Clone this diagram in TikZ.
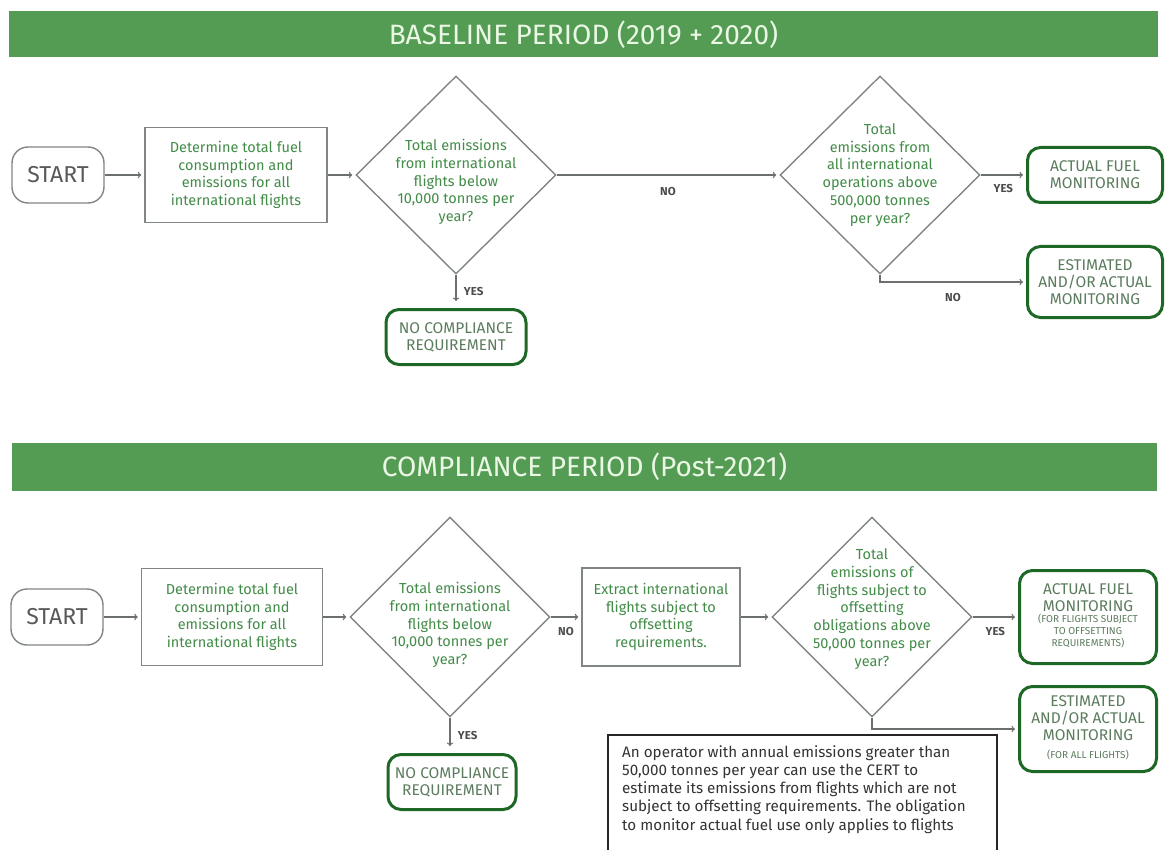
\documentclass[tikz,border=0pt]{standalone}
\usepackage{fontspec}
\setmainfont{Fira Sans}
\usetikzlibrary{arrows,shapes.geometric}

\definecolor{bargreen}{RGB}{84,156,84}
\definecolor{bartext}{RGB}{234,247,228}
\definecolor{txtgreen}{RGB}{66,140,72}
\definecolor{termtext}{RGB}{92,124,94}
\definecolor{edgegray}{RGB}{128,134,128}
\definecolor{termgreen}{RGB}{30,104,38}
\definecolor{linegray}{RGB}{108,112,108}

\newcommand{\finetext}[1]{{\fontsize{10}{12}\selectfont\begin{tabular}{@{}c@{}}#1\end{tabular}}}

\begin{document}
\begin{tikzpicture}[x=1pt,y=-1pt,>=to,
    banner/.style={fill=bargreen,minimum width=1149pt,minimum height=46pt,text=bartext,font=\fontsize{28}{30}\selectfont},
    startbox/.style={draw=edgegray,line width=1.4pt,rounded corners=16pt,minimum width=92pt,minimum height=56pt,text=black!65,font=\fontsize{23}{26}\selectfont},
    process/.style={draw=edgegray,line width=1.4pt,align=center,text=txtgreen,inner sep=0pt,font=\fontsize{14.5}{17.5}\selectfont},
    decision/.style={diamond,draw=edgegray,line width=1.4pt,inner sep=0pt,minimum width=200pt,minimum height=198pt},
    dtext/.style={align=center,text=txtgreen,font=\fontsize{14.5}{17.8}\selectfont},
    terminal/.style={draw=termgreen,line width=3pt,rounded corners=13pt,align=center,inner sep=0pt,text=termtext,font=\fontsize{15.5}{16.8}\selectfont},
    flow/.style={->,draw=linegray,line width=1.3pt,shorten >=3pt},
    answer/.style={text=black!70,font=\fontsize{11.5}{12}\selectfont\bfseries},
    notebox/.style={draw=black!85,line width=2.6pt},
    notetext/.style={align=left,text=black!80,inner sep=0pt,font=\fontsize{15.2}{18.3}\selectfont}]
    \useasboundingbox (0,0) rectangle (1166,850);
    \clip (0,0) rectangle (1166,850);
    \fill[white] (0,0) rectangle (1166,850);

    % period banners
    \node[banner] (bar1) at (583.5,34.5) {BASELINE PERIOD (2019 + 2020)};
    \node[banner,minimum width=1145pt,minimum height=48pt] (bar2) at (584.5,467) {COMPLIANCE PERIOD (Post-2021)};

    % baseline period
    \node[startbox] (start1) at (58,175) {START};
    \node[process,minimum width=182pt,minimum height=95pt] (det1) at (236,175)
        {Determine total fuel\\consumption and\\emissions for all\\international flights};
    \node[decision] (dec1) at (456,175) {};
    \node[dtext,yshift=-7pt] (dec1t) at (dec1) {Total emissions\\from international\\flights below\\10,000 tonnes per\\year?};
    \node[terminal,minimum width=140pt,minimum height=55pt] (nocomp1) at (456,337) {NO COMPLIANCE\\REQUIREMENT};
    \node[decision] (dec2) at (880,175) {};
    \node[dtext] (dec2t) at (dec2) {Total\\emissions from\\all international\\operations above\\500,000 tonnes\\per year?};
    \node[terminal,minimum width=135pt,minimum height=55pt] (actual1) at (1095,175) {ACTUAL FUEL\\MONITORING};
    \node[terminal,minimum width=135pt,minimum height=71pt] (est1) at (1095,282) {ESTIMATED\\AND/OR ACTUAL\\MONITORING};

    \draw[flow] (start1) -- (det1);
    \draw[flow] (det1) -- (dec1);
    \draw[flow,shorten >=7pt] (dec1) -- (nocomp1) node[answer,midway,right=4pt] {YES};
    \draw[flow] (dec1) -- (dec2) node[answer,midway,below=8pt] {NO};
    \draw[flow] (dec2) -- (actual1) node[answer,midway,below=5pt] {YES};
    \draw[flow] (dec2.south) |- (est1) node[answer,pos=0.75,below=7pt] {NO};

    % compliance period
    \node[startbox] (start2) at (57,617) {START};
    \node[process,minimum width=181pt,minimum height=97pt] (det2) at (232,617)
        {Determine total fuel\\consumption and\\emissions for all\\international flights};
    \node[decision,minimum height=200pt] (dec3) at (450,617) {};
    \node[dtext,yshift=-8pt] (dec3t) at (dec3) {Total emissions\\from international\\flights below\\10,000 tonnes per\\year?};
    \node[terminal,minimum width=128pt,minimum height=55pt] (nocomp2) at (452,782) {NO COMPLIANCE\\REQUIREMENT};
    \node[process,minimum width=158pt,minimum height=98pt] (extract) at (661,617)
        {Extract international\\flights subject to\\offsetting\\requirements.};
    \node[decision,minimum height=200pt] (dec4) at (872,617) {};
    \node[dtext,yshift=8pt] (dec4t) at (dec4) {Total\\emissions of\\flights subject to\\offsetting\\obligations above\\50,000 tonnes per\\year?};
    \node[terminal,minimum width=137pt,minimum height=93pt] (actual2) at (1088,617)
        {ACTUAL FUEL\\MONITORING\\[2pt]\finetext{(FOR FLIGHTS SUBJECT\\TO OFFSETTING\\REQUIREMENTS)}};
    \node[terminal,minimum width=137pt,minimum height=85pt] (est2) at (1088,729)
        {ESTIMATED\\AND/OR ACTUAL\\MONITORING\\[1pt]\finetext{(FOR ALL FLIGHTS)}};

    \draw[flow] (start2) -- (det2);
    \draw[flow] (det2) -- (dec3);
    \draw[flow,shorten >=7pt] (dec3.south) -- (dec3.south |- nocomp2.north) node[answer,midway,right=4pt] {YES};
    \draw[flow] (dec3) -- (extract) node[answer,midway,below=6pt] {NO};
    \draw[flow] (extract) -- (dec4);
    \draw[flow] (dec4) -- (actual2) node[answer,midway,below=6pt] {YES};
    \draw[flow] (dec4.south) |- (est2);

    % note about CERT
    \draw[notebox] (608,870) |- (997,735) -- (997,870);
    \node[notetext,anchor=north west] (note) at (622,745)
        {An operator with annual emissions greater than\\50,000 tonnes per year can use the CERT to\\estimate its emissions from flights which are not\\subject to offsetting requirements. The obligation\\to monitor actual fuel use only applies to flights};
\end{tikzpicture}
\end{document}
